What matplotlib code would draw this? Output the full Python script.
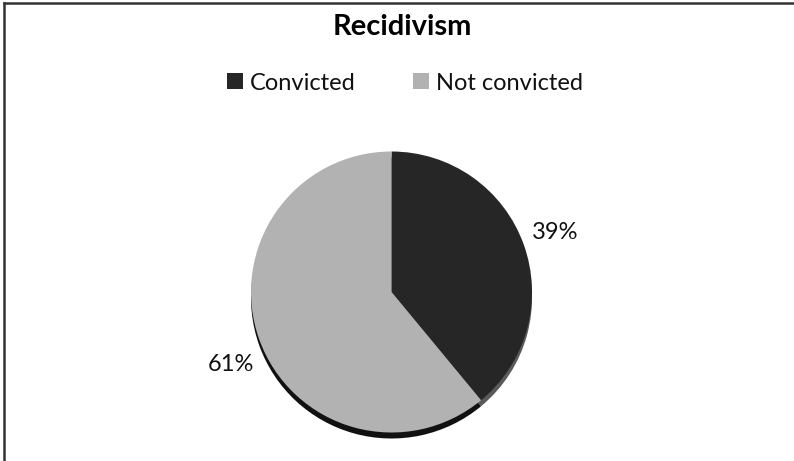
import matplotlib
matplotlib.use("Agg")
import numpy as np
import matplotlib.pyplot as plt
from matplotlib.lines import Line2D

title = "Recidivism"
categories = ["Convicted", "Not convicted"]
values = [39, 61]
face_colors = ["#262626", "#b2b2b2"]
side_colors = ["#5a5a5a", "#111111"]

W, H = 794, 461
fig = plt.figure(figsize=(W / 100, H / 100), dpi=100)
ax = fig.add_axes([0, 0, 1, 1])

cx, cy, r, depth = 391.5, H - 292, 140.5, 6

# 3D side / shadow
ax.pie(values, colors=side_colors, startangle=90, counterclock=False,
       center=(cx, cy - depth), radius=r, frame=True,
       wedgeprops=dict(linewidth=0))
wedges, texts, autotexts = ax.pie(
    values, colors=face_colors, startangle=90, counterclock=False,
    center=(cx, cy), radius=r, frame=True,
    autopct="%1.0f%%", pctdistance=1.24,
    wedgeprops=dict(linewidth=0),
    textprops=dict(fontsize=17, family="Lato", color="#111111"))
# Excel places the second label slightly lower along the rim
ang = np.deg2rad(-155.7)
autotexts[1].set_position((cx + 1.25 * r * np.cos(ang), cy + 1.25 * r * np.sin(ang)))

ax.set_xlim(0, W)
ax.set_ylim(0, H)
ax.set_aspect("equal")
ax.axis("off")

fig.text(402 / W, 1 - 35 / H, title, ha="center", va="baseline",
         fontsize=21, fontweight="bold", family="Lato", color="#000000")

leg = fig.legend(wedges, categories, loc="center", bbox_to_anchor=(405 / W, 1 - 83 / H),
                 ncol=2, frameon=False, prop=dict(family="Lato", size=17),
                 handlelength=0.7, handleheight=0.7, handletextpad=0.3,
                 columnspacing=2.4)
for t in leg.get_texts():
    t.set_color("#111111")

# border (top and left visible)
fig.add_artist(Line2D([4 / W, 4 / W], [0, 1 - 3 / H], transform=fig.transFigure,
                      color="#333333", linewidth=1.8))
fig.add_artist(Line2D([4 / W, 1], [1 - 3 / H, 1 - 3 / H], transform=fig.transFigure,
                      color="#333333", linewidth=1.8))

fig.savefig("out.png", dpi=100, facecolor="white")
